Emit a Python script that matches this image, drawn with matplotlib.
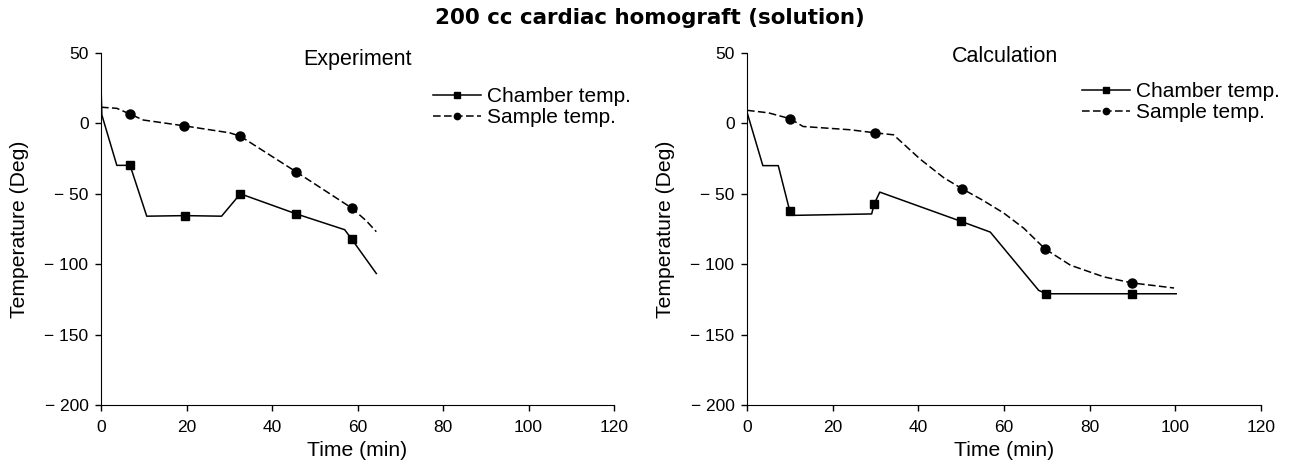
import numpy as np
import matplotlib
matplotlib.use("Agg")
import matplotlib.pyplot as plt

plt.rcParams['font.family'] = ['Liberation Sans', 'DejaVu Sans']

# Experiment panel
exp_chamber_t = [0, 0.2, 3.7, 6.8, 10.7, 19.6, 28.2, 32.6, 45.7, 57.0, 58.6, 64.4]
exp_chamber_T = [27, 6, -29.8, -29.8, -65.9, -65.5, -65.9, -50, -64.3, -75.5, -82, -106.6]
exp_chamber_mk = [3, 5, 7, 8, 10]

exp_sample_t = [0, 3.7, 6.8, 9.9, 19.4, 30.1, 32.6, 45.7, 58.6, 62.0, 64.4]
exp_sample_T = [11.5, 10.7, 6.6, 2.4, -1.7, -6.7, -9.1, -34.5, -60, -69, -76.9]
exp_sample_mk = [2, 4, 6, 7, 8]

# Calculation panel
calc_chamber_t = [0, 3.7, 7.3, 10.0, 11.2, 29.1, 29.7, 31.0, 50.0, 56.8, 68.1, 69.9, 89.9, 100.2]
calc_chamber_T = [8, -30, -30, -62.4, -65.3, -64.3, -57.2, -48.8, -69.6, -77.2, -118.6, -121, -121, -121]
calc_chamber_mk = [3, 6, 8, 11, 12]

calc_sample_t = [0, 5.0, 10.0, 13.1, 24.0, 29.9, 34.2, 40.4, 45.9, 50.2, 55.0, 59.9, 64.6, 69.6, 75.5, 83.3, 89.9, 99.7]
calc_sample_T = [9.3, 7.5, 3.4, -2.2, -4.5, -6.7, -8.1, -25.3, -38.5, -46.4, -54.5, -63.6, -74.4, -89.2, -100.7, -109, -113.3, -116.9]
calc_sample_mk = [2, 5, 9, 13, 16]

x_ticks = [0, 20, 40, 60, 80, 100, 120]
y_ticks = [50, 0, -50, -100, -150, -200]
y_ticklabels = ['50', '0', '\u2212 50', '\u2212 100', '\u2212 150', '\u2212 200']

fig = plt.figure(figsize=(12.89, 4.75), dpi=100)
W, H = 1289, 475

def make_axes(x0, x1):
    ax = fig.add_axes([x0 / W, 1 - 405 / H, (x1 - x0) / W, 352 / H])
    ax.set_xlim(0, 120)
    ax.set_ylim(-200, 50)
    ax.set_xticks(x_ticks)
    ax.set_yticks(y_ticks)
    ax.set_yticklabels(y_ticklabels)
    ax.spines['top'].set_visible(False)
    ax.spines['right'].set_visible(False)
    ax.tick_params(labelsize=12.5, length=4.5, width=1, direction='out', pad=4.5)
    ax.tick_params(axis='x', pad=6.5)
    ax.set_xlabel("Time (min)", fontsize=15.2, labelpad=4)
    ax.set_ylabel("Temperature (Deg)", fontsize=15.2)
    # label anchor is its right edge once rotated
    ax.yaxis.set_label_coords(-72 / (x1 - x0), 0.5)
    return ax

def draw(ax, ct, cT, cmk, st, sT, smk, title, tx, ty, lx, ly):
    ax.plot(ct, cT, color='black', lw=1.1, marker='s', ms=5.5, markevery=cmk, label="Chamber temp.")
    ax.plot(st, sT, color='black', lw=1.1, ls=(0, (5, 2.2)), marker='o', ms=6.5, markevery=smk, label="Sample temp.")
    ax.text(tx, ty, title, transform=ax.transAxes, fontsize=15.5, va='center', ha='left')
    ax.legend(loc='upper left', bbox_to_anchor=(lx, ly), frameon=False, fontsize=15,
              handlelength=2.3, handletextpad=0.3, labelspacing=0.1, markerscale=0.7,
              borderaxespad=0, borderpad=0)

ax1 = make_axes(101, 614)
draw(ax1, exp_chamber_t, exp_chamber_T, exp_chamber_mk, exp_sample_t, exp_sample_T, exp_sample_mk,
     "Experiment", 0.394, 0.982, 0.647, 0.903)

ax2 = make_axes(747, 1261)
draw(ax2, calc_chamber_t, calc_chamber_T, calc_chamber_mk, calc_sample_t, calc_sample_T, calc_sample_mk,
     "Calculation", 0.398, 0.99, 0.651, 0.917)

fig.text(650 / W, 1 - 18 / H, "200 cc cardiac homograft (solution)", ha='center', va='center',
         fontsize=15.4, fontweight='bold', family='DejaVu Sans')

fig.savefig("out.png", dpi=100)
